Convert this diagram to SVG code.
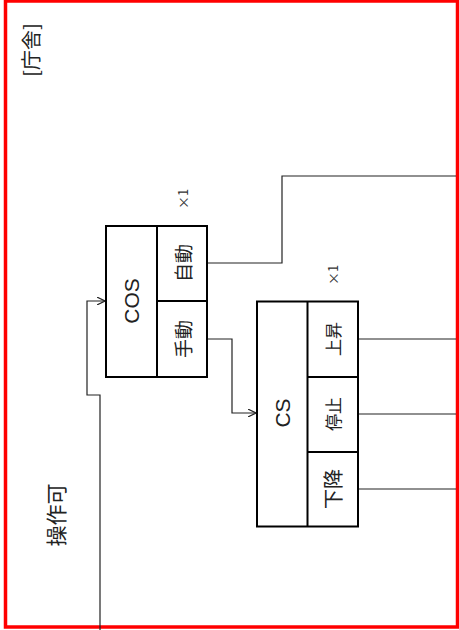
<svg xmlns="http://www.w3.org/2000/svg" width="459" height="630" viewBox="0 0 459 630">
<style>
.box{fill:#fff;stroke:#000;stroke-width:2}
.div{fill:none;stroke:#000;stroke-width:2}
.con{fill:none;stroke:#222;stroke-width:1.2}
.t{font-family:"Noto Sans CJK JP","Liberation Sans",sans-serif;fill:#222;text-anchor:middle;dominant-baseline:central}
.s{font-family:"Liberation Sans","Noto Sans CJK JP",sans-serif;fill:#222;text-anchor:middle;dominant-baseline:central}
.x{font-family:"Noto Sans CJK JP","Liberation Sans",sans-serif;fill:#333;text-anchor:middle;dominant-baseline:central;font-size:13px}
</style>
<defs>
<marker id="arr" viewBox="0 0 10 10" refX="10" refY="5" markerWidth="8" markerHeight="8" markerUnits="userSpaceOnUse" orient="auto">
<path d="M0,0 L10,5 L0,10" fill="none" stroke="#222" stroke-width="1.4"/>
</marker>
</defs>
<rect x="5.5" y="1" width="452" height="626" fill="#fff" stroke="#f00" stroke-width="3.5"/>
<g id="label-chousha"><text class="t" font-size="20" transform="translate(30,50) rotate(-90)">[庁舎]</text></g>
<g id="label-sousaka"><text class="t" font-size="21" transform="translate(55,515) rotate(-90)">操作可</text></g>
<g id="connectors">
<path class="con" d="M100,630 V395 H87 V301 H105" marker-end="url(#arr)"/>
<path class="con" d="M208,339 H232 V413 H256" marker-end="url(#arr)"/>
<path class="con" d="M208,263 H282 V176 H456"/>
<path class="con" d="M358,339 H456"/>
<path class="con" d="M358,414 H456"/>
<path class="con" d="M358,489 H456"/>
</g>
<g id="COS">
<rect class="box" x="106" y="226" width="101" height="151"/>
<path class="div" d="M157,226 V377 M157,301 H207"/>
<text class="s" font-size="21" transform="translate(131.5,301) rotate(-90)">COS</text>
<text class="t" font-size="19" transform="translate(182,263) rotate(-90)">自動</text>
<text class="t" font-size="19" transform="translate(182,339) rotate(-90)">手動</text>
<text class="x" transform="translate(182,199) rotate(-90)">×1</text>
</g>
<g id="CS">
<rect class="box" x="257" y="301.5" width="101" height="225"/>
<path class="div" d="M307.5,301.5 V526.5 M307.5,377 H358 M307.5,452 H358"/>
<text class="s" font-size="21" transform="translate(282.5,413) rotate(-90)">CS</text>
<text class="t" font-size="17" transform="translate(332,339) rotate(-90)">上昇</text>
<text class="t" font-size="17" transform="translate(332,414) rotate(-90)">停止</text>
<text class="t" font-size="20" transform="translate(332,489) rotate(-90)">下降</text>
<text class="x" transform="translate(332,275) rotate(-90)">×1</text>
</g>
</svg>
